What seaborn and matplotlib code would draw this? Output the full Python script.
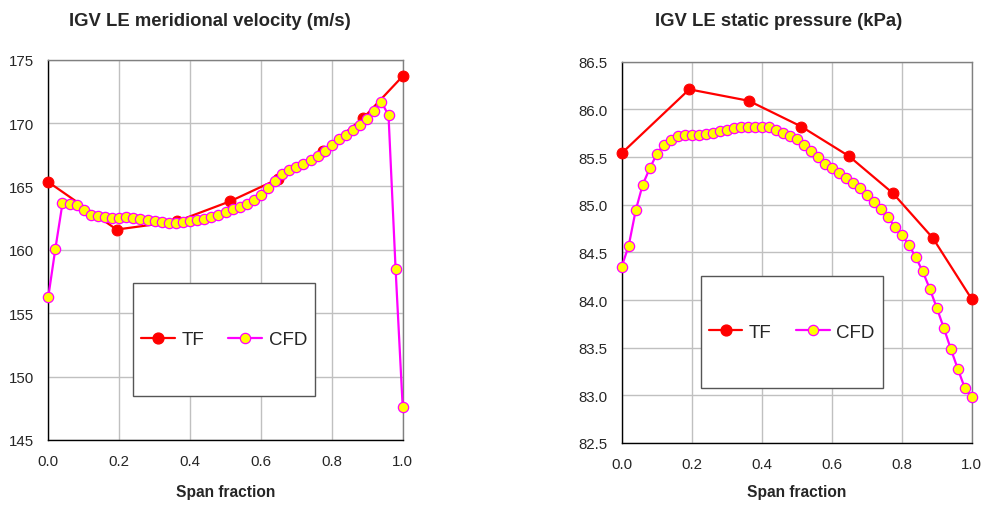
import matplotlib
matplotlib.use("Agg")
import matplotlib.pyplot as plt
import seaborn as sns
import pandas as pd
from matplotlib.patches import Rectangle
from matplotlib.lines import Line2D

# ---------------- data ----------------
span_cfd = [0.00, 0.02, 0.04, 0.06, 0.08, 0.10, 0.12, 0.14, 0.16, 0.18,
            0.20, 0.22, 0.24, 0.26, 0.28, 0.30, 0.32, 0.34, 0.36, 0.38,
            0.40, 0.42, 0.44, 0.46, 0.48, 0.50, 0.52, 0.54, 0.56, 0.58,
            0.60, 0.62, 0.64, 0.66, 0.68, 0.70, 0.72, 0.74, 0.76, 0.78,
            0.80, 0.82, 0.84, 0.86, 0.88, 0.90, 0.92, 0.94, 0.96, 0.98, 1.00]

vel_cfd = [156.3, 160.1, 163.67, 163.59, 163.54, 163.14, 162.78, 162.67, 162.57, 162.54,
           162.54, 162.57, 162.51, 162.46, 162.35, 162.27, 162.17, 162.09, 162.12, 162.17,
           162.25, 162.35, 162.45, 162.62, 162.77, 162.96, 163.2, 163.38, 163.64, 163.91,
           164.35, 164.88, 165.46, 165.98, 166.27, 166.56, 166.8, 167.06, 167.38, 167.77,
           168.27, 168.74, 169.06, 169.48, 169.85, 170.32, 170.98, 171.66, 170.61, 158.45, 147.6]

pres_cfd = [84.35, 84.57, 84.94, 85.21, 85.38, 85.53, 85.63, 85.68, 85.72, 85.73,
            85.73, 85.73, 85.74, 85.75, 85.77, 85.78, 85.80, 85.82, 85.82, 85.82,
            85.82, 85.81, 85.78, 85.75, 85.72, 85.69, 85.63, 85.56, 85.50, 85.43,
            85.38, 85.33, 85.28, 85.23, 85.17, 85.10, 85.03, 84.95, 84.87, 84.77,
            84.68, 84.58, 84.45, 84.30, 84.12, 83.92, 83.71, 83.49, 83.28, 83.08, 82.98]

span_tf = [0.0, 0.193, 0.363, 0.513, 0.649, 0.775, 0.889, 1.0]
vel_tf = [165.35, 161.6, 162.25, 163.83, 165.6, 167.82, 170.4, 173.7]
pres_tf = [85.54, 86.21, 86.09, 85.82, 85.51, 85.12, 84.65, 84.01]

titles = ["IGV LE meridional velocity (m/s)", "IGV LE static pressure (kPa)"]
xlabel = "Span fraction"
series_names = ["TF", "CFD"]
x_ticks = [0.0, 0.2, 0.4, 0.6, 0.8, 1.0]
vel_ticks = [145, 150, 155, 160, 165, 170, 175]
pres_ticks = [82.5, 83.0, 83.5, 84.0, 84.5, 85.0, 85.5, 86.0, 86.5]

# ---------------- style ----------------
sns.set_style("white")
plt.rcParams["font.family"] = ["Liberation Sans", "DejaVu Sans"]

W, H = 985, 506
fig = plt.figure(figsize=(W / 100, H / 100), dpi=100)

def px_axes(x0, y0, x1, y1):
    return fig.add_axes([x0 / W, 1 - y1 / H, (x1 - x0) / W, (y1 - y0) / H])

ax1 = px_axes(48.3, 60.7, 402.7, 441.0)
ax2 = px_axes(621.7, 62.7, 971.7, 444.0)

TF_COLOR = "#ff0000"
CFD_LINE = "#ff00ff"
CFD_FACE = "#ffff00"
TF_MS = 7.8
CFD_MS = 7.4

def draw(ax, tf_y, cfd_y, yticks, fmt):
    df_tf = pd.DataFrame({"span": span_tf, "val": tf_y})
    df_cfd = pd.DataFrame({"span": span_cfd, "val": cfd_y})
    sns.lineplot(data=df_tf, x="span", y="val", ax=ax, color=TF_COLOR, lw=1.6,
                 marker="o", markersize=TF_MS, markerfacecolor=TF_COLOR,
                 markeredgecolor=TF_COLOR, estimator=None, sort=False,
                 clip_on=False, zorder=3)
    sns.lineplot(data=df_cfd, x="span", y="val", ax=ax, color=CFD_LINE, lw=1.6,
                 marker="o", markersize=CFD_MS, markerfacecolor=CFD_FACE,
                 markeredgecolor=CFD_LINE, markeredgewidth=0.9,
                 estimator=None, sort=False, clip_on=False, zorder=4)
    ax.set_xlim(0, 1)
    ax.set_ylim(yticks[0], yticks[-1])
    ax.set_xticks(x_ticks)
    ax.set_xticklabels([f"{t:.1f}" for t in x_ticks])
    ax.set_yticks(yticks)
    ax.set_yticklabels([fmt.format(t) for t in yticks])
    ax.grid(True, color="#c0c0c0", lw=1.0)
    ax.set_axisbelow(True)
    for s in ["top", "right"]:
        ax.spines[s].set_color("#808080")
        ax.spines[s].set_linewidth(1.0)
    for s in ["left", "bottom"]:
        ax.spines[s].set_color("black")
        ax.spines[s].set_linewidth(1.0)
    ax.tick_params(axis="both", direction="out", length=4, width=1,
                   color="black", labelsize=10.8, pad=6)
    ax.set_xlabel("")
    ax.set_ylabel("")

draw(ax1, vel_tf, vel_cfd, vel_ticks, "{:.0f}")
draw(ax2, pres_tf, pres_cfd, pres_ticks, "{:.1f}")

handles = [
    Line2D([], [], color=TF_COLOR, lw=1.6, marker="o", markersize=TF_MS,
           markerfacecolor=TF_COLOR, markeredgecolor=TF_COLOR),
    Line2D([], [], color=CFD_LINE, lw=1.6, marker="o", markersize=CFD_MS,
           markerfacecolor=CFD_FACE, markeredgecolor=CFD_LINE, markeredgewidth=0.9),
]

def legend_box(ax, x0, x1, y0, y1):
    rect = Rectangle((x0, y0), x1 - x0, y1 - y0, transform=ax.transAxes,
                     facecolor="white", edgecolor="#555555", lw=1.0, zorder=5)
    ax.add_patch(rect)
    leg = ax.legend(handles, series_names, loc="center",
                    bbox_to_anchor=((x0 + x1) / 2, (y0 + y1) / 2),
                    ncol=2, frameon=False, fontsize=13.5, handlelength=1.8,
                    handletextpad=0.35, columnspacing=1.3)
    leg.set_zorder(6)

legend_box(ax1, 0.238, 0.753, 0.115, 0.412)
legend_box(ax2, 0.226, 0.746, 0.143, 0.439)

fig.text(209.7 / W, 1 - 21 / H, titles[0], ha="center", va="center",
         fontsize=13.3, fontweight="bold")
fig.text(779 / W, 1 - 21 / H, titles[1], ha="center", va="center",
         fontsize=13.3, fontweight="bold")
fig.text(225.5 / W, 1 - 493 / H, xlabel, ha="center", va="center",
         fontsize=11.2, fontweight="bold")
fig.text(796.7 / W, 1 - 493 / H, xlabel, ha="center", va="center",
         fontsize=11.2, fontweight="bold")

fig.savefig("out.png", dpi=100)
